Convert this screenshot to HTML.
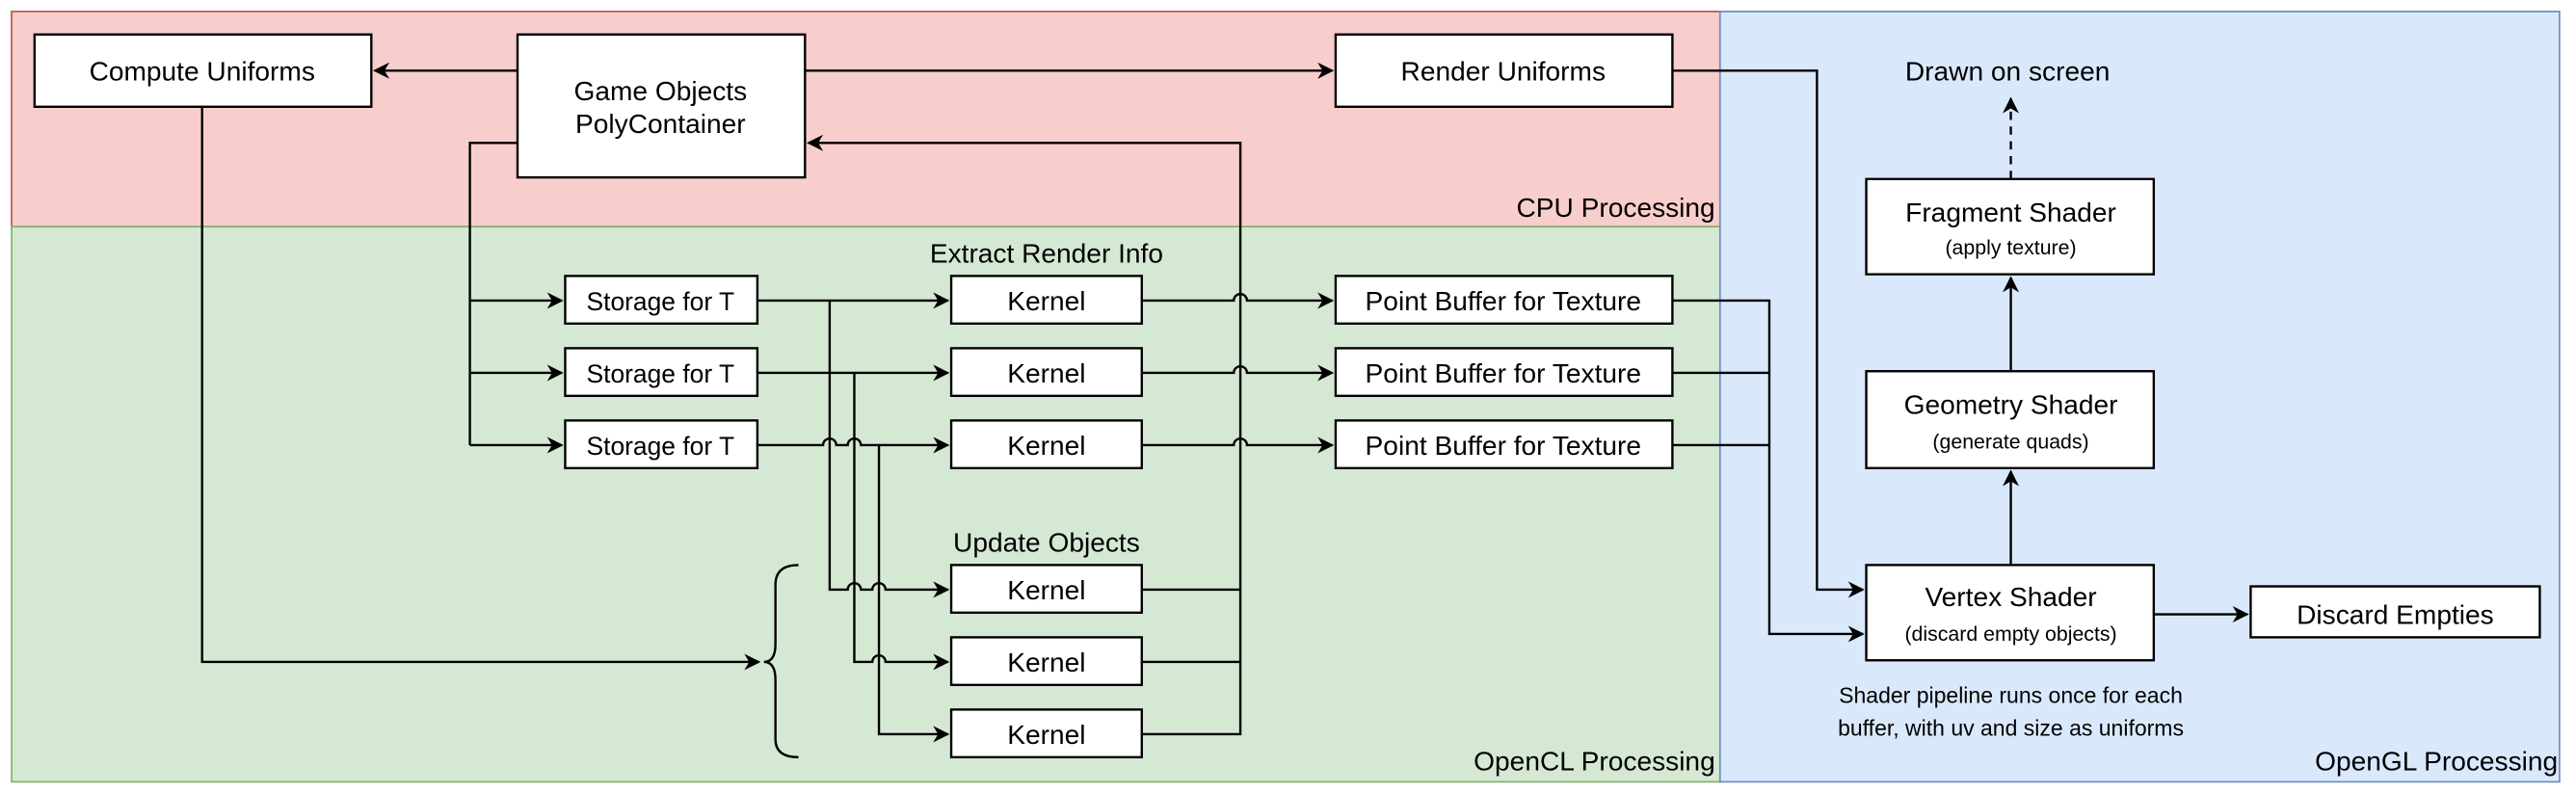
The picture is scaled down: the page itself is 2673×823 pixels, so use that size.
<!DOCTYPE html>
<html><head><meta charset="utf-8"><style>
html,body{margin:0;padding:0;background:#fff;}
svg{display:block;}
text{font-family:"Liberation Sans",sans-serif;fill:#000;}
</style></head><body>
<svg width="2673" height="823" viewBox="0 0 1568 482.8" xmlns="http://www.w3.org/2000/svg">
<defs>
<marker id="a" viewBox="0 0 10 10" refX="9" refY="5" markerWidth="10" markerHeight="10" markerUnits="userSpaceOnUse" orient="auto">
<path d="M0,0 L10,5 L0,10 L3,5 Z" fill="#000"/>
</marker>
</defs>
<rect x="7" y="7" width="1040" height="131" fill="#f8cecc" stroke="#b85450" stroke-width="1"/>
<rect x="7" y="138" width="1040" height="338" fill="#d5e8d4" stroke="#82b366" stroke-width="1"/>
<rect x="1047" y="7" width="511" height="469" fill="#dae8fc" stroke="#6c8ebf" stroke-width="1"/>
<text x="1044" y="132" font-size="16.5" text-anchor="end">CPU Processing</text>
<text x="1044" y="469" font-size="16.5" text-anchor="end">OpenCL Processing</text>
<text x="1557" y="469" font-size="16.5" text-anchor="end">OpenGL Processing</text>

<g fill="none" stroke="#000" stroke-width="1.4">
<path d="M315,43 H228" marker-end="url(#a)"/>
<path d="M490,43 H811" marker-end="url(#a)"/>
<path d="M315,87 H286 V271"/>
<path d="M286,183 H342" marker-end="url(#a)"/>
<path d="M286,227 H342" marker-end="url(#a)"/>
<path d="M286,271 H342" marker-end="url(#a)"/>
<path d="M461,183 H577" marker-end="url(#a)"/>
<path d="M461,227 H577" marker-end="url(#a)"/>
<path d="M461,271 H501 A4,4 0 0 1 509,271 H516 A4,4 0 0 1 524,271 H577" marker-end="url(#a)"/>
<path d="M505,183 V359 H516 A4,4 0 0 1 524,359 H531 A4,4 0 0 1 539,359 H577" marker-end="url(#a)"/>
<path d="M520,227 V403 H531 A4,4 0 0 1 539,403 H577" marker-end="url(#a)"/>
<path d="M535,271 V447 H577" marker-end="url(#a)"/>
<path d="M695,183 H751 A4,4 0 0 1 759,183 H811" marker-end="url(#a)"/>
<path d="M695,227 H751 A4,4 0 0 1 759,227 H811" marker-end="url(#a)"/>
<path d="M695,271 H751 A4,4 0 0 1 759,271 H811" marker-end="url(#a)"/>
<path d="M695,359 H755 M695,403 H755 M695,447 H755 V87 H492" marker-end="url(#a)"/>
<path d="M123,65 V403 H462" marker-end="url(#a)"/>
<path d="M486,344 Q472,344 472,356 L472,392 Q472,403 465,403 Q472,403 472,414 L472,450 Q472,461 486,461"/>
<path d="M1018,183 H1077 V386 H1134" marker-end="url(#a)"/>
<path d="M1018,227 H1077 M1018,271 H1077"/>
<path d="M1018,43 H1106 V359 H1134" marker-end="url(#a)"/>
<path d="M1224,344 V287" marker-end="url(#a)"/>
<path d="M1224,226 V169" marker-end="url(#a)"/>
<path d="M1224,109 V60" stroke-dasharray="5,4" marker-end="url(#a)"/>
<path d="M1311,374 H1368" marker-end="url(#a)"/>
</g>

<g fill="#fff" stroke="#000" stroke-width="1.4">
<rect x="21" y="21" width="205" height="44"/>
<rect x="315" y="21" width="175" height="87"/>
<rect x="813" y="21" width="205" height="44"/>
<rect x="344" y="168" width="117" height="29"/>
<rect x="344" y="212" width="117" height="29"/>
<rect x="344" y="256" width="117" height="29"/>
<rect x="579" y="168" width="116" height="29"/>
<rect x="579" y="212" width="116" height="29"/>
<rect x="579" y="256" width="116" height="29"/>
<rect x="579" y="344" width="116" height="29"/>
<rect x="579" y="388" width="116" height="29"/>
<rect x="579" y="432" width="116" height="29"/>
<rect x="813" y="168" width="205" height="29"/>
<rect x="813" y="212" width="205" height="29"/>
<rect x="813" y="256" width="205" height="29"/>
<rect x="1136" y="109" width="175" height="58"/>
<rect x="1136" y="226" width="175" height="59"/>
<rect x="1136" y="344" width="175" height="58"/>
<rect x="1370" y="357" width="176" height="31"/>
</g>

<g font-size="16.5" text-anchor="middle">
<text x="123" y="49">Compute Uniforms</text>
<text x="402" y="61">Game Objects</text>
<text x="402" y="81">PolyContainer</text>
<text x="915" y="49">Render Uniforms</text>
<text x="1222" y="49">Drawn on screen</text>
<text x="637" y="160">Extract Render Info</text>
<text x="637" y="336">Update Objects</text>
<text x="402" y="189" font-size="15.5">Storage for T</text>
<text x="402" y="233" font-size="15.5">Storage for T</text>
<text x="402" y="277" font-size="15.5">Storage for T</text>
<text x="637" y="189">Kernel</text>
<text x="637" y="233">Kernel</text>
<text x="637" y="277">Kernel</text>
<text x="637" y="365">Kernel</text>
<text x="637" y="409">Kernel</text>
<text x="637" y="453">Kernel</text>
<text x="915" y="189">Point Buffer for Texture</text>
<text x="915" y="233">Point Buffer for Texture</text>
<text x="915" y="277">Point Buffer for Texture</text>
<text x="1224" y="135">Fragment Shader</text>
<text x="1224" y="252">Geometry Shader</text>
<text x="1224" y="369">Vertex Shader</text>
<text x="1458" y="380">Discard Empties</text>
<g font-size="12.5">
<text x="1224" y="155">(apply texture)</text>
<text x="1224" y="273">(generate quads)</text>
<text x="1224" y="390">(discard empty objects)</text>
<text x="1224" y="428" font-size="13.5">Shader pipeline runs once for each</text>
<text x="1224" y="448" font-size="13.5">buffer, with uv and size as uniforms</text>
</g>
</g>
</svg>
</body></html>
